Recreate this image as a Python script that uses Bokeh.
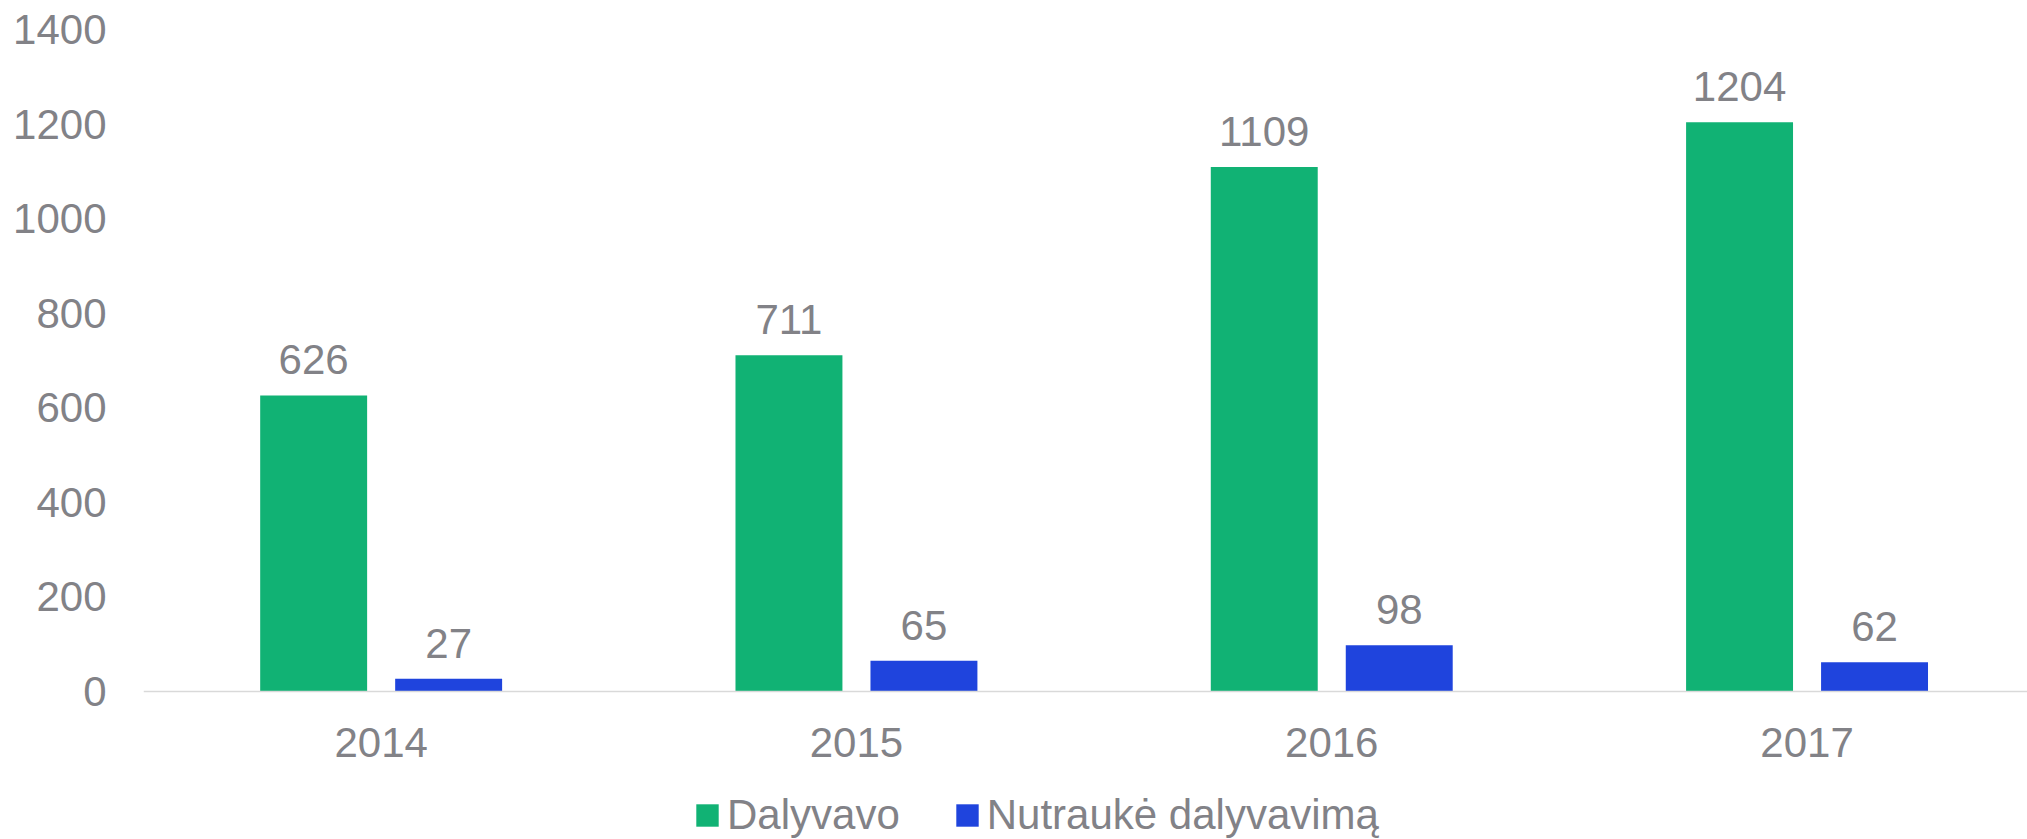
from bokeh.plotting import figure
from bokeh.models import Range1d, FixedTicker, Legend, LegendItem, ColumnDataSource
from bokeh.embed import file_html
from bokeh.resources import INLINE
from bokeh.core.properties import value

# ---- data ----
years = ["2014", "2015", "2016", "2017"]
dalyvavo = [626, 711, 1109, 1204]
nutrauke = [27, 65, 98, 62]
series_names = ["Dalyvavo", "Nutraukė dalyvavimą"]
colors = ["#11B274", "#1F44DD"]
y_ticks = [0, 200, 400, 600, 800, 1000, 1200, 1400]

# ---- style ----
W, H = 2027, 839
TOP, LEFT = 29, 143
PLOT_H = 662            # pixels from 0 to the top tick
FONT = "Liberation Sans"
GRAY = "#828287"
FS = "42px"

centers = [i + 0.5 for i in range(len(years))]
offset = 0.142
bw = 0.225

src = ColumnDataSource(dict(
    x1=[c - offset for c in centers],
    x2=[c + offset for c in centers],
    d=dalyvavo, n=nutrauke,
    dl=[str(v) for v in dalyvavo],
    nl=[str(v) for v in nutrauke],
))

y_top = y_ticks[-1]
y_start = -y_top * (H - TOP - PLOT_H) / PLOT_H

p = figure(width=W, height=H, output_backend="svg", toolbar_location=None,
           x_range=Range1d(0, (W - LEFT) / 475.3), y_range=Range1d(y_start, y_top),
           min_border_left=LEFT, min_border_right=0, min_border_top=TOP,
           min_border_bottom=0)
p.outline_line_color = None
p.xgrid.visible = False
p.ygrid.visible = False
p.background_fill_color = "white"
p.border_fill_color = "white"

r1 = p.vbar(x="x1", top="d", width=bw, bottom=0, source=src,
            fill_color=colors[0], line_color=None)
r2 = p.vbar(x="x2", top="n", width=bw, bottom=0, source=src,
            fill_color=colors[1], line_color=None)

for xcol, ycol, tcol in (("x1", "d", "dl"), ("x2", "n", "nl")):
    p.text(x=xcol, y=ycol, text=tcol, source=src, text_align="center",
           text_baseline="bottom", y_offset=-21,
           text_font=value(FONT), text_font_size=FS, text_color=GRAY)

# x axis, drawn at y = 0
p.xaxis.fixed_location = 0
p.xaxis.ticker = FixedTicker(ticks=centers)
p.xaxis.major_label_overrides = {c: y for c, y in zip(centers, years)}
p.xaxis.axis_line_color = "#D9D9D9"
p.xaxis.axis_line_width = 1.5
p.xaxis.major_tick_line_color = None
p.xaxis.minor_tick_line_color = None
p.xaxis.major_tick_out = 0
p.xaxis.major_tick_in = 0
p.xaxis.major_label_standoff = 36
p.xaxis.major_label_text_font = FONT
p.xaxis.major_label_text_font_size = FS
p.xaxis.major_label_text_color = GRAY

# y axis
p.yaxis.ticker = FixedTicker(ticks=y_ticks)
p.yaxis.axis_line_color = None
p.yaxis.major_tick_line_color = None
p.yaxis.minor_tick_line_color = None
p.yaxis.major_tick_out = 0
p.yaxis.major_tick_in = 0
p.yaxis.major_label_standoff = 37
p.yaxis.major_label_text_font = FONT
p.yaxis.major_label_text_font_size = FS
p.yaxis.major_label_text_color = GRAY

legend = Legend(items=[LegendItem(label=series_names[0], renderers=[r1]),
                       LegendItem(label=series_names[1], renderers=[r2])],
                orientation="horizontal", location=(550, 0),
                glyph_width=28, glyph_height=28, label_standoff=6, spacing=53,
                padding=0, margin=0, border_line_color=None,
                background_fill_alpha=0,
                label_text_font=FONT, label_text_font_size=FS,
                label_text_color=GRAY)
p.add_layout(legend, "center")

open("out.html", "w").write(file_html(p, INLINE))
